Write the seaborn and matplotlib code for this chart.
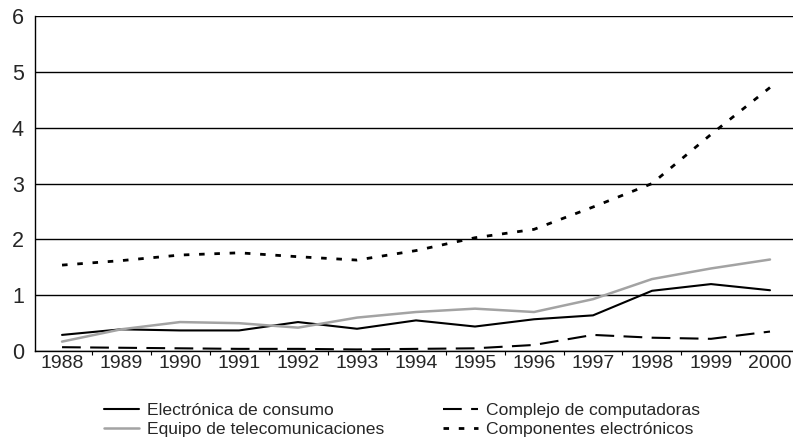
import matplotlib
matplotlib.use("Agg")
import matplotlib.pyplot as plt
import seaborn as sns
import pandas as pd
from matplotlib.ticker import FixedLocator

years = [1988, 1989, 1990, 1991, 1992, 1993, 1994, 1995, 1996, 1997, 1998, 1999, 2000]
consumo = [0.29, 0.39, 0.37, 0.37, 0.52, 0.40, 0.55, 0.44, 0.57, 0.64, 1.08, 1.20, 1.09]
telecom = [0.17, 0.39, 0.52, 0.50, 0.42, 0.60, 0.70, 0.76, 0.70, 0.93, 1.29, 1.48, 1.64]
computadoras = [0.07, 0.06, 0.05, 0.04, 0.04, 0.03, 0.04, 0.05, 0.11, 0.29, 0.24, 0.22, 0.35]
componentes = [1.54, 1.62, 1.72, 1.76, 1.69, 1.63, 1.80, 2.03, 2.18, 2.58, 3.00, 3.88, 4.72]

labels = ["Electrónica de consumo", "Equipo de telecomunicaciones",
          "Complejo de computadoras", "Componentes electrónicos"]
yticks = [0, 1, 2, 3, 4, 5, 6]

sns.set_theme(style="white")
plt.rcParams['font.family'] = ['Liberation Sans Narrow', 'Liberation Sans', 'DejaVu Sans']

fig = plt.figure(figsize=(7.93, 4.45), dpi=100)
ax = fig.add_axes([0.044, 0.211, 0.956, 0.753])

series = [consumo, telecom, computadoras, componentes]
styles = [
    dict(color="black", linewidth=1.5, linestyle="-"),
    dict(color="#a3a3a3", linewidth=1.8, linestyle="-"),
    dict(color="black", linewidth=1.5, linestyle=(0, (9, 4.5))),
    dict(color="black", linewidth=2.0, linestyle=(0, (2, 3.5))),
]
for vals, lab, st in zip(series, labels, styles):
    df = pd.DataFrame({"year": years, "value": vals})
    sns.lineplot(data=df, x="year", y="value", ax=ax, label=lab, **st)

ax.set_xlim(1987.54, 2000.39)
ax.set_ylim(0, 6)
ax.set_yticks(yticks)
ax.set_yticklabels([str(t) for t in yticks])
ax.set_xticks(years)
ax.set_xticklabels([str(y) for y in years])
ax.xaxis.set_minor_locator(FixedLocator([y + 0.5 for y in years[:-1]]))
ax.tick_params(axis="x", which="major", length=0, pad=3, labelsize=14)
ax.tick_params(axis="x", which="minor", length=3, width=0.8, color="black", direction="out", bottom=True)
ax.tick_params(axis="y", which="major", length=0, pad=8, labelsize=15.5)
ax.set_xlabel("")
ax.set_ylabel("")

ax.yaxis.grid(True, color="black", linewidth=1.0)
ax.xaxis.grid(False)
ax.set_axisbelow(True)
for side in ["top", "right"]:
    ax.spines[side].set_visible(False)
ax.spines["left"].set_color("black")
ax.spines["left"].set_linewidth(1.0)
ax.spines["bottom"].set_color("black")
ax.spines["bottom"].set_linewidth(1.0)

ax.legend(loc="upper center", bbox_to_anchor=(0.507, 0.11), bbox_transform=fig.transFigure,
          ncol=2, frameon=False, fontsize=12.6, handlelength=2.0, handletextpad=0.45,
          columnspacing=3.4, labelspacing=0.2, borderaxespad=0)

fig.savefig("out.png", dpi=100, facecolor="white")
